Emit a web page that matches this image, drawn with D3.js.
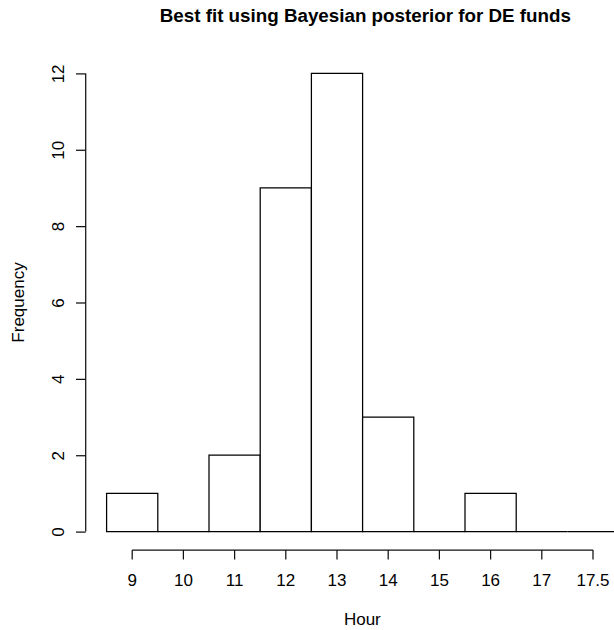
<!DOCTYPE html>
<html>
<head>
<meta charset="utf-8">
<script src="https://cdn.jsdelivr.net/npm/d3@7"></script>
<style>
  html, body { margin: 0; padding: 0; background: #fff; }
  svg { display: block; }
  text { font-family: "Liberation Sans", Arial, Helvetica, sans-serif; fill: #000; }
</style>
</head>
<body>
<svg id="chart" width="614" height="630"></svg>
<script>
// Histogram bins (labelled by hour) and their counts
const hours = ["9", "10", "11", "12", "13", "14", "15", "16", "17", "17.5"];
const counts = [1, 0, 2, 9, 12, 3, 0, 1, 0, 0];
const yTicks = [0, 2, 4, 6, 8, 10, 12];

const titleText = "Best fit using Bayesian posterior for DE funds";
const xLabel = "Hour";
const yLabel = "Frequency";

const svg = d3.select("#chart");

// Plot region (the right part runs past the visible canvas)
const plot = { left: 85.7, right: 639, top: 55, bottom: 550 };
const plotCx = (plot.left + plot.right) / 2;

const x = d3.scaleBand()
  .domain(hours)
  .range([106.6, 618.6])
  .paddingInner(0)
  .paddingOuter(0);

const y = d3.scaleLinear()
  .domain([0, 12])
  .range([531.6, 73.4]);

const bins = hours.map((h, i) => ({ hour: h, count: counts[i] }));

// Bars: closed outlines so empty bins still show as a line on the baseline
svg.append("g")
  .selectAll("path")
  .data(bins)
  .join("path")
  .attr("d", d => {
    const x0 = x(d.hour), x1 = x(d.hour) + x.bandwidth();
    const y0 = y(0), y1 = y(d.count);
    return `M${x0},${y0}V${y1}H${x1}V${y0}Z`;
  })
  .attr("fill", "#fff")
  .attr("stroke", "#000")
  .attr("stroke-width", 1.25);

// X axis, R style: line only between the first and last tick
const xAxis = svg.append("g")
  .attr("transform", `translate(0,${plot.bottom})`)
  .call(d3.axisBottom(x).tickSize(9.5).tickSizeOuter(0).tickPadding(0));
const xFirst = x(hours[0]) + x.bandwidth() / 2;
const xLast = x(hours[hours.length - 1]) + x.bandwidth() / 2;
xAxis.select(".domain").attr("d", `M${xFirst},0H${xLast}`)
  .attr("stroke", "#111").attr("stroke-width", 1.25);
xAxis.selectAll(".tick line").attr("stroke", "#111").attr("stroke-width", 1.25);
xAxis.selectAll(".tick text")
  .attr("y", 36)
  .attr("dy", 0)
  .style("font-size", "17px")
  .style("font-family", "'Liberation Sans', Arial, sans-serif")
  .attr("fill", "#000");

// Y axis with labels turned to read upward
const yAxis = svg.append("g")
  .attr("transform", `translate(${plot.left},0)`)
  .call(d3.axisLeft(y).tickValues(yTicks).tickSize(9.7).tickSizeOuter(0));
yAxis.select(".domain").attr("d", `M0,${y(0)}V${y(12)}`)
  .attr("stroke", "#111").attr("stroke-width", 1.25);
yAxis.selectAll(".tick line").attr("stroke", "#111").attr("stroke-width", 1.25);
yAxis.selectAll(".tick text")
  .attr("x", null)
  .attr("dy", null)
  .attr("transform", "translate(-22,0) rotate(-90)")
  .attr("text-anchor", "middle")
  .attr("dy", "0")
  .style("font-size", "17px")
  .style("font-family", "'Liberation Sans', Arial, sans-serif")
  .attr("fill", "#000");

// Title
svg.append("text")
  .attr("x", plotCx + 3)
  .attr("y", 22)
  .attr("text-anchor", "middle")
  .style("font-size", "18.8px")
  .style("font-weight", "bold")
  .text(titleText);

// Axis titles
svg.append("text")
  .attr("x", plotCx)
  .attr("y", 625)
  .attr("text-anchor", "middle")
  .style("font-size", "17px")
  .text(xLabel);

svg.append("text")
  .attr("transform", `translate(24,${(plot.top + plot.bottom) / 2}) rotate(-90)`)
  .attr("text-anchor", "middle")
  .style("font-size", "17px")
  .text(yLabel);
</script>
</body>
</html>
